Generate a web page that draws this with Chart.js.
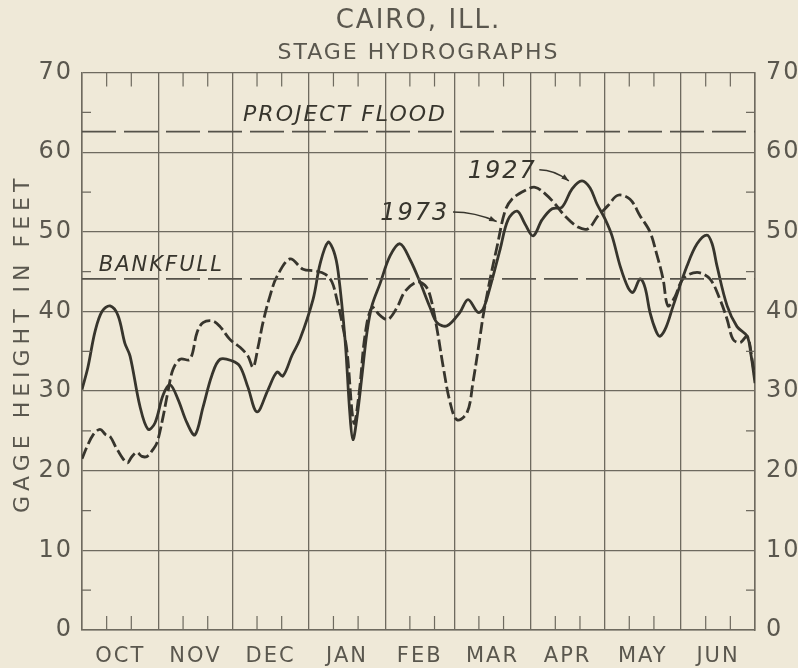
<!DOCTYPE html>
<html>
<head>
<meta charset="utf-8">
<script src="https://cdn.jsdelivr.net/npm/chart.js@4.4.1/dist/chart.umd.min.js"></script>
<style>
  html, body { margin: 0; padding: 0; background: #efe9d8; }
  #chart-container { width: 798px; height: 668px; }
</style>
</head>
<body>
<div id="chart-container"><canvas id="chart"></canvas></div>
<script>
// water year Oct -> Jun, x in days from Oct 1
const MONTHS = ["OCT", "NOV", "DEC", "JAN", "FEB", "MAR", "APR", "MAY", "JUN"];
const MONTH_DAYS = [31, 30, 31, 31, 28, 31, 30, 31, 30];

const DAYS_1927 = [
  0, 2.4, 5.3, 8.1, 11.4, 14.6, 17.4, 19.5, 23.5, 26.8,
  29.6, 32.9, 35.7, 38.9, 42.6, 45.8, 49.1, 52.7, 56, 60.9,
  64.1, 67.3, 71, 75.5, 79.1, 81.5, 85.2, 88.4, 93.7, 96.6,
  99.8, 102.2, 103.9, 106.7, 108.7, 109.9, 111.6, 113.6, 115.6, 117.6,
  120.9, 125, 129, 133.1, 137.1, 141.2, 144, 148.1, 153.3, 156.6,
  160.6, 162.7, 165.5, 169.6, 172.8, 176.5, 179.7, 183, 186.6, 190.7,
  194.7, 198.8, 202.8, 206.1, 208.9, 212.2, 215, 218.3, 221.5, 223.5,
  226.4, 228.4, 230.4, 232.9, 234.5, 236.9, 239.8, 245.4, 249.5, 253.5,
  255.6, 257.6, 261.7, 265.7, 269.8, 271.4, 273
];
const STAGE_1927 = [
  30.2, 33, 37.5, 40, 40.7, 39.5, 36, 34.4, 28.1, 25.2,
  26, 29.5, 30.8, 29, 26, 24.5, 28, 32, 34, 33.8,
  33.1, 30.5, 27.4, 30.2, 32.4, 31.9, 34.5, 36.5, 41.5, 46,
  48.7, 47.5, 45, 36.5, 27, 23.9, 26.8, 32, 37.4, 40.7,
  43.5, 47, 48.5, 46.5, 43.7, 40.5, 38.6, 38.2, 39.9, 41.5,
  39.9, 40.3, 43, 47.8, 51.5, 52.6, 51, 49.5, 51.5, 52.9,
  53.1, 55.4, 56.4, 55.5, 53.5, 51.6, 49.5, 45.7, 43, 42.4,
  44.1, 43, 39.9, 37.5, 36.9, 38, 40.7, 45.7, 48.5, 49.6,
  48.5, 45.7, 40.7, 38.1, 36.9, 34.5, 31
];

const DAYS_1973 = [
  0, 2, 4.5, 7.3, 9.7, 11.4, 14.2, 18.3, 20.3, 22.3,
  24.3, 26.4, 28.4, 30.4, 32.9, 34.9, 36.9, 39.8, 43.8, 46.7,
  49.1, 53.1, 56, 60, 64.1, 67.3, 69.4, 71.4, 73.4, 76.3,
  79.1, 84.4, 89.7, 94.5, 98.6, 101.4, 103.4, 105.5, 107.5, 110.3,
  112.5, 114.8, 117.6, 120.9, 124.1, 127.8, 131, 135.9, 139.1, 141.2,
  144, 146.5, 149.3, 152.1, 156.2, 158.6, 161.5, 162.7, 165.5, 168.4,
  171.6, 174.4, 179.7, 183.8, 187.8, 191.9, 195.9, 201.2, 205.3, 209.3,
  213.4, 217.4, 222.3, 226.4, 230.4, 233.3, 235.7, 237.7, 240.6, 243.8,
  249.5, 254.7, 258.8, 261.7, 264.1, 267, 269.8, 271.8, 273
];
const STAGE_1973 = [
  21.5, 23, 24.5, 25.2, 24.5, 24.3, 22.7, 21, 21.8, 22.3,
  21.8, 21.8, 22.5, 23.5, 26.8, 30, 32.7, 34, 34, 37.4,
  38.6, 38.8, 38.1, 36.5, 35.5, 34.4, 33, 35.5, 38.6, 42,
  44.4, 46.6, 45.3, 45.1, 44.7, 43.7, 41.5, 38.6, 35, 26,
  30, 37, 40.5, 39.5, 39, 40.5, 42.5, 43.7, 43.3, 42,
  37.8, 33.1, 28.6, 26.4, 27.3, 31.1, 36.9, 39.4, 44, 48.2,
  52.6, 54.1, 55.2, 55.6, 54.8, 53.5, 52, 50.6, 50.4, 52,
  53.3, 54.6, 54.1, 52, 50, 47, 44.1, 40.7, 41.9, 44.1,
  44.9, 44.1, 41.5, 39, 36.5, 36.1, 36.9, 34, 31.5
];

const PROJECT_FLOOD = 62.6;
const BANKFULL = 44.1;

// label text and where it sits (day, feet)
const NOTES = [
  { text: "PROJECT FLOOD", x: 106.7, y: 64.6, size: 22 },
  { text: "BANKFULL", x: 32.2, y: 45.8, size: 21 },
  { text: "1927", x: 170.5, y: 57.6, size: 24 },
  { text: "1973", x: 135, y: 52.3, size: 24 }
];
const ARROWS = [
  { from: [185.5, 57.8], to: [197.5, 56.4] },
  { from: [150.5, 52.5], to: [168.2, 51.3] }
];
const Y_TITLE = "GAGE HEIGHT IN FEET";

const INK = "#37352d";
const GRID = "#6e6a5f";
const TEXT = "#5a574e";

let monthEdges = [0];
MONTH_DAYS.forEach(d => monthEdges.push(monthEdges[monthEdges.length - 1] + d));
const monthMids = MONTHS.map((m, i) => (monthEdges[i] + monthEdges[i + 1]) / 2);
const totalDays = monthEdges[monthEdges.length - 1];

function pts(xs, ys) {
  return xs.map((x, i) => ({ x: x, y: ys[i] }));
}

// lettering is widely spaced on the original drawing
const spacing = {
  id: "spacing",
  beforeDraw(chart) { chart.ctx.letterSpacing = "2px"; }
};

// minor ticks + hand lettered notes
const extras = {
  id: "extras",
  afterDatasetsDraw(chart) {
    const ctx = chart.ctx;
    const xs = chart.scales.x, ys = chart.scales.y;
    const a = chart.chartArea;
    ctx.save();
    ctx.strokeStyle = GRID;
    ctx.lineWidth = 1.2;
    ctx.beginPath();
    MONTH_DAYS.forEach((d, i) => {
      [10, 20].forEach(off => {
        const px = xs.getPixelForValue(monthEdges[i] + off);
        ctx.moveTo(px, a.top); ctx.lineTo(px, a.top + 14);
        ctx.moveTo(px, a.bottom); ctx.lineTo(px, a.bottom - 14);
      });
    });
    for (let v = 5; v < 70; v += 10) {
      const py = ys.getPixelForValue(v);
      ctx.moveTo(a.left, py); ctx.lineTo(a.left + 9, py);
      ctx.moveTo(a.right, py); ctx.lineTo(a.right - 9, py);
    }
    ctx.stroke();

    ctx.fillStyle = INK;
    ctx.textAlign = "center";
    ctx.textBaseline = "middle";
    NOTES.forEach(n => {
      ctx.font = "italic " + n.size + "px 'DejaVu Sans'";
      ctx.fillText(n.text, xs.getPixelForValue(n.x), ys.getPixelForValue(n.y));
    });

    ctx.strokeStyle = INK;
    ctx.lineWidth = 1.4;
    ARROWS.forEach(ar => {
      const x0 = xs.getPixelForValue(ar.from[0]), y0 = ys.getPixelForValue(ar.from[1]);
      const x1 = xs.getPixelForValue(ar.to[0]), y1 = ys.getPixelForValue(ar.to[1]);
      ctx.beginPath();
      ctx.moveTo(x0, y0);
      ctx.quadraticCurveTo((x0 + x1) / 2, y0, x1, y1);
      ctx.stroke();
      const ang = Math.atan2(y1 - y0, x1 - (x0 + x1) / 2);
      ctx.beginPath();
      ctx.moveTo(x1, y1);
      ctx.lineTo(x1 - 8 * Math.cos(ang - 0.35), y1 - 8 * Math.sin(ang - 0.35));
      ctx.lineTo(x1 - 8 * Math.cos(ang + 0.35), y1 - 8 * Math.sin(ang + 0.35));
      ctx.closePath();
      ctx.fill();
    });

    // y axis title, more open lettering than the rest
    ctx.letterSpacing = "5px";
    ctx.fillStyle = TEXT;
    ctx.font = "22px 'DejaVu Sans'";
    ctx.translate(23, (a.top + a.bottom) / 2 - 8);
    ctx.rotate(-Math.PI / 2);
    ctx.fillText(Y_TITLE, 0, 0);
    ctx.restore();
  }
};

new Chart(document.getElementById("chart"), {
  type: "line",
  data: {
    datasets: [
      {
        label: "Project flood",
        data: [{ x: 0, y: PROJECT_FLOOD }, { x: totalDays, y: PROJECT_FLOOD }],
        borderColor: "#55524a", borderWidth: 1.8, borderDash: [34, 8],
        pointRadius: 0, tension: 0
      },
      {
        label: "Bankfull",
        data: [{ x: 0, y: BANKFULL }, { x: totalDays, y: BANKFULL }],
        borderColor: "#55524a", borderWidth: 1.8, borderDash: [34, 8],
        pointRadius: 0, tension: 0
      },
      {
        label: "1973",
        data: pts(DAYS_1973, STAGE_1973),
        borderColor: INK, borderWidth: 2.8, borderDash: [12, 4],
        pointRadius: 0, tension: 0.35
      },
      {
        label: "1927",
        data: pts(DAYS_1927, STAGE_1927),
        borderColor: INK, borderWidth: 2.8,
        pointRadius: 0, tension: 0.35
      }
    ]
  },
  options: {
    responsive: true,
    maintainAspectRatio: false,
    animation: false,
    layout: { padding: 0 },
    plugins: {
      legend: { display: false },
      tooltip: { enabled: false },
      title: {
        display: true, fullSize: false, text: "CAIRO, ILL.", color: TEXT,
        font: { family: "'DejaVu Sans'", size: 26, weight: "normal", lineHeight: 1.2 },
        padding: { top: 6, bottom: 0 }
      },
      subtitle: {
        display: true, fullSize: false, text: "STAGE HYDROGRAPHS", color: TEXT,
        font: { family: "'DejaVu Sans'", size: 22, weight: "normal", lineHeight: 1.2 },
        padding: { top: 3, bottom: 6 }
      }
    },
    scales: {
      x: {
        type: "linear", position: "bottom", min: 0, max: totalDays,
        afterBuildTicks: s => { s.ticks = monthEdges.map(v => ({ value: v })); },
        afterFit: s => { s.height = 0; },
        ticks: { display: false },
        grid: { color: GRID, lineWidth: 1.3, drawTicks: false },
        border: { color: GRID, width: 1.5 }
      },
      xm: {
        type: "linear", position: "bottom", min: 0, max: totalDays,
        afterBuildTicks: s => { s.ticks = monthMids.map(v => ({ value: v })); },
        afterFit: s => { s.height = 38; },
        ticks: {
          color: TEXT, padding: 6, maxRotation: 0, autoSkip: false,
          font: { family: "'DejaVu Sans'", size: 21 },
          callback: (v, i) => MONTHS[i]
        },
        grid: { display: false },
        border: { display: false }
      },
      y: {
        type: "linear", position: "left", min: 0, max: 70,
        afterFit: s => { s.width = 82; },
        ticks: { stepSize: 10, color: TEXT, padding: 9, font: { family: "'DejaVu Sans'", size: 24 } },
        grid: { color: GRID, lineWidth: 1.3, drawTicks: false },
        border: { color: GRID, width: 1.5 }
      },
      y2: {
        type: "linear", position: "right", min: 0, max: 70,
        afterFit: s => { s.width = 43; },
        ticks: { stepSize: 10, color: TEXT, padding: 11, font: { family: "'DejaVu Sans'", size: 24 } },
        grid: { display: false, drawTicks: false },
        border: { color: GRID, width: 1.5 }
      }
    }
  },
  plugins: [spacing, extras]
});
</script>
</body>
</html>
